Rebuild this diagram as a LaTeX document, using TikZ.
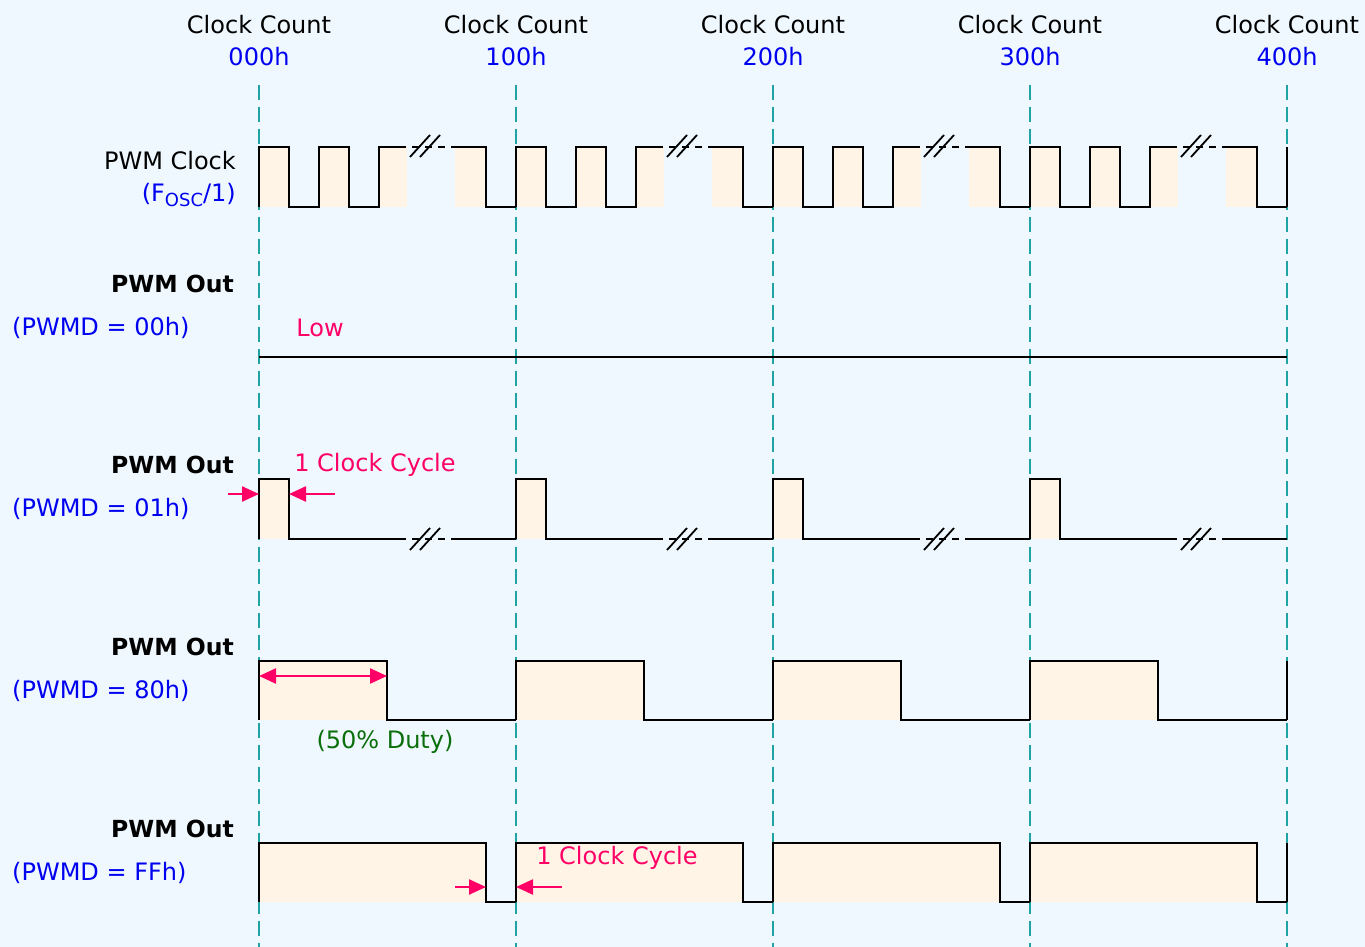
\documentclass[tikz,border=0pt]{standalone}
\usepackage{fontspec}
\setmainfont{DejaVu Sans}
\usepackage{xcolor}
\usepackage{tikz}
\usetikzlibrary{arrows.meta,positioning}
\definecolor{bgc}{HTML}{EEF8FE}
\definecolor{gridc}{HTML}{1FA3A3}
\definecolor{hic}{HTML}{FFF4E6}
\definecolor{bluec}{HTML}{0000F0}
\definecolor{pinkc}{HTML}{FF0066}
\definecolor{greenc}{HTML}{0A6E0A}
\tikzset{
  sig/.style={line width=2.3pt,black},
  gd/.style={gridc,line width=2pt,dash pattern=on 15pt off 7pt},
  hib/.style={fill=hic,draw=none},
  brkd/.style={line width=2.3pt,black,dash pattern=on 7pt off 6pt},
  slash/.style={line width=1.8pt,black},
  ar/.style={-{Triangle[length=17pt,width=15pt]},line width=2.4pt,pinkc},
  dar/.style={{Triangle[length=17pt,width=15pt]}-{Triangle[length=17pt,width=15pt]},line width=2.4pt,pinkc},
  txt/.style={font=\fontsize{24}{28}\selectfont,inner sep=0pt},
  bld/.style={font=\fontsize{23.5}{28}\selectfont\bfseries,inner sep=0pt}
}
\begin{document}
\begin{tikzpicture}[x=1pt,y=-1pt]
\fill[bgc] (0,0) rectangle (1365,947);
\useasboundingbox (0,0) rectangle (1365,947);
% high parts
\foreach \p in {259,516,773,1030}{
 \fill[hib] (\p,147) rectangle ++(30,60);
 \fill[hib] (\p+60,147) rectangle ++(30,60);
 \fill[hib] (\p+120,147) rectangle ++(28,60);
 \fill[hib] (\p+196,147) rectangle ++(31,60);
 \fill[hib] (\p,479) rectangle ++(30,60);
 \fill[hib] (\p,661) rectangle ++(128,59);
 \fill[hib] (\p,843) rectangle ++(227,59);}
% clock counts
\foreach \x/\h [count=\i] in {259/000h,516/100h,773/200h,1030/300h,1287/400h}{
 \node[txt] (cc\i) at (\x,25) {Clock Count};
 \node[txt,bluec] (hx\i) at (\x,57) {\h};
 \draw[gd] (\x,85) -- (\x,947);}
% waveforms
\foreach \p in {259,516,773,1030}{
 \draw[sig] (\p,207) -- (\p,147) -- ++(30,0) -- ++(0,60) -- ++(30,0) -- ++(0,-60) -- ++(30,0) -- ++(0,60) -- ++(30,0) -- ++(0,-60) -- (\p+140,147);
 \draw[brkd] (\p+140,147) -- (\p+194,147);
 \draw[sig] (\p+194,147) -- (\p+227,147) -- ++(0,60) -- (\p+257,207);
 \draw[slash] (\p+151,157) -- (\p+171,135);
 \draw[slash] (\p+161,157) -- (\p+181,135);
 \draw[sig] (\p,539) -- (\p,479) -- ++(30,0) -- ++(0,60) -- (\p+140,539);
 \draw[brkd] (\p+140,539) -- (\p+194,539);
 \draw[sig] (\p+194,539) -- (\p+257,539);
 \draw[slash] (\p+151,550) -- (\p+171,528);
 \draw[slash] (\p+161,550) -- (\p+181,528);
 \draw[sig] (\p,720) -- (\p,661) -- ++(128,0) -- ++(0,59) -- (\p+257,720);
 \draw[sig] (\p,902) -- (\p,843) -- ++(227,0) -- ++(0,59) -- (\p+257,902);}
\draw[sig] (1287,207) -- (1287,147);
\draw[sig] (259,357) -- (1287,357);
\draw[sig] (1287,720) -- (1287,661);
\draw[sig] (1287,902) -- (1287,843);
% labels
\node[txt,anchor=east] (clk) at (236,161) {PWM Clock};
\node[txt,anchor=east,bluec] (fosc) at (236,195) {(F\raisebox{-0.35ex}{\fontsize{18}{20}\selectfont OSC}/1)};
\foreach \y/\v [count=\i] in {284/00h,465/01h,647/80h,829/FFh}{
 \node[bld,anchor=east] (out\i) at (234,\y) {PWM Out};
 \node[txt,anchor=west,bluec] (md\i) at (12,\y+44) {(PWMD = \v)};}
\node[txt,pinkc] (low) at (320,328) {Low};
\node[txt,pinkc] (cyc1) at (375,465) {1 Clock Cycle};
\node[txt,pinkc] (cyc2) at (617,858) {1 Clock Cycle};
\node[txt,greenc] (duty) at (385,742) {(50\% Duty)};
% arrows
\coordinate (a1s) at (228,494); \coordinate (a1e) at (259,494);
\coordinate (a2s) at (335,494); \coordinate (a2e) at (289,494);
\coordinate (dl) at (259,676); \coordinate (dr) at (387,676);
\coordinate (a3s) at (455,887); \coordinate (a3e) at (486,887);
\coordinate (a4s) at (562,887); \coordinate (a4e) at (516,887);
\draw[ar] (a1s) -- (a1e);
\draw[ar] (a2s) -- (a2e);
\draw[dar] (dl) -- (dr);
\draw[ar] (a3s) -- (a3e);
\draw[ar] (a4s) -- (a4e);
\end{tikzpicture}
\end{document}
